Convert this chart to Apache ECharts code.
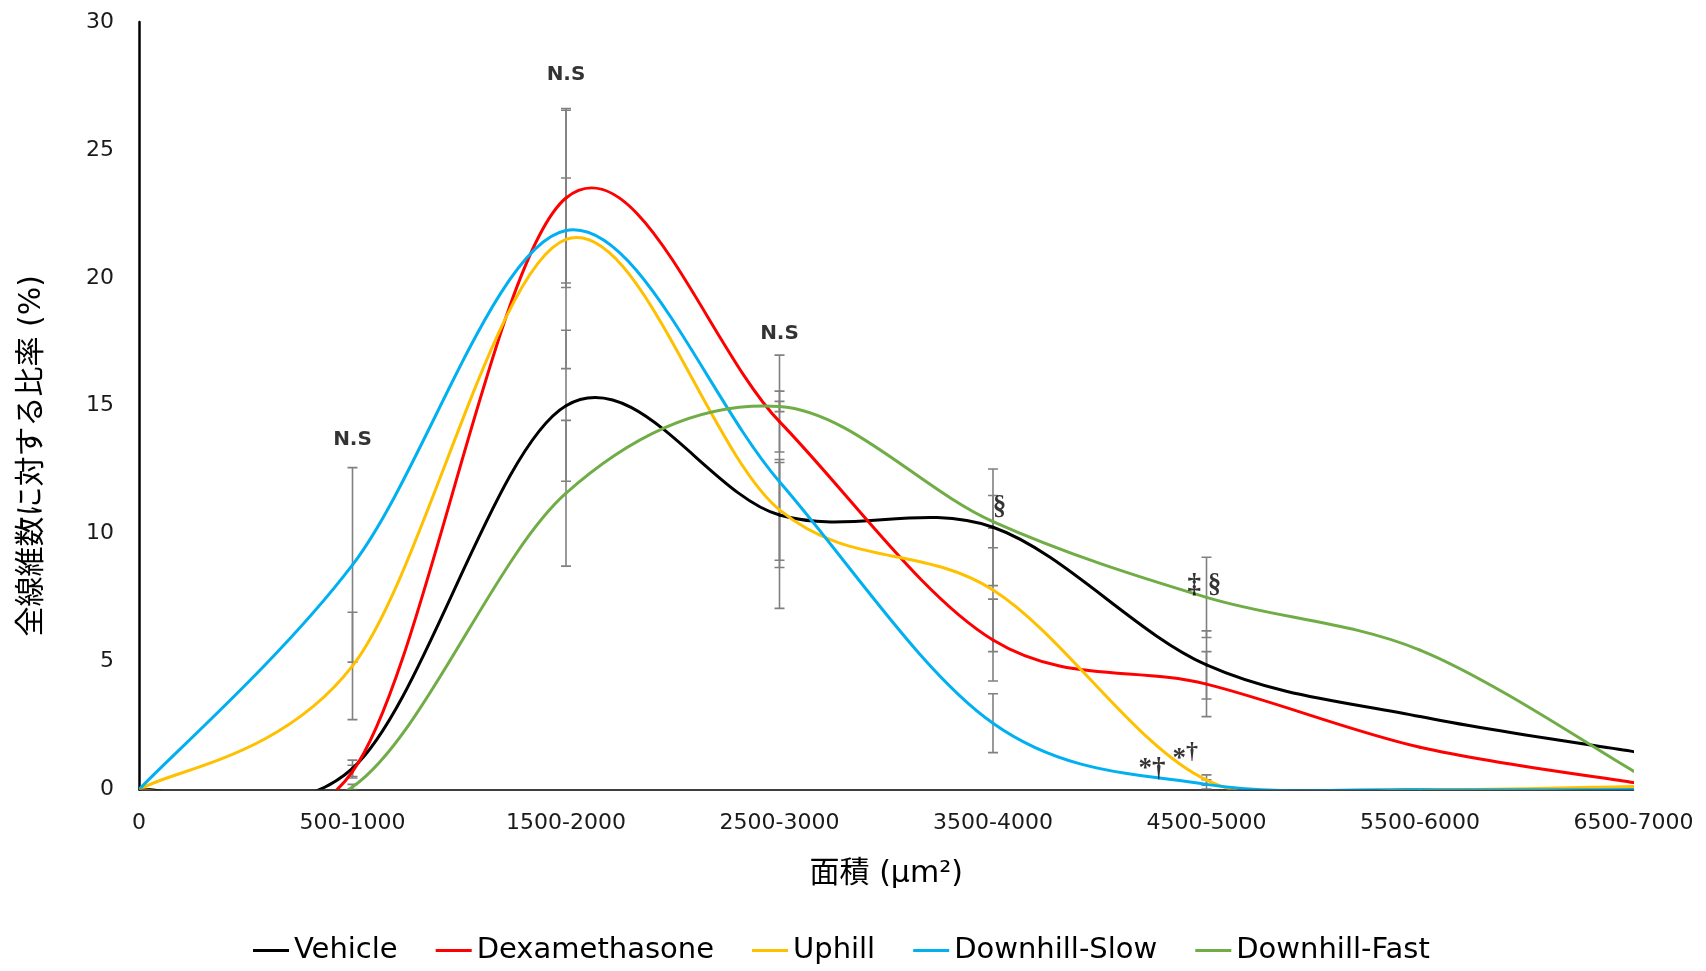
<!DOCTYPE html>
<html><head><meta charset="utf-8">
<script src="https://cdn.jsdelivr.net/npm/echarts@6/dist/echarts.min.js"></script>
<style>html,body{margin:0;padding:0;background:#fff}#c{width:1706px;height:971px}</style>
</head><body><div id="c"></div>
<script>
// x categories (area bins, µm²)
const categories = ['0', '500-1000', '1500-2000', '2500-3000', '3500-4000', '4500-5000', '5500-6000', '6500-7000'];
const yTicks = [0, 5, 10, 15, 20, 25, 30];

// series values (% of total fibres)
const seriesNames = ['Vehicle', 'Dexamethasone', 'Uphill', 'Downhill-Slow', 'Downhill-Fast'];
const vehicle       = [0, 0.83, 15.00, 10.73, 10.25, 4.87, 2.85, 1.48];
const dexamethasone = [0, 0.70, 23.12, 14.38,  5.84, 4.12, 1.65, 0.27];
const uphill        = [0, 4.83, 21.50, 10.93,  7.80, 0.37, 0.00, 0.12];
const downhillSlow  = [0, 8.78, 21.85, 12.03,  2.59, 0.20, 0.00, 0.00];
const downhillFast  = [0, 0.10, 11.58, 14.97, 10.47, 7.51, 5.45, 0.72];

// error bar half-widths (null = no bar)
const vehicleErr       = [null, 0.32, 2.95, 2.05, 2.28, 1.33, null, null];
const dexamethasoneErr = [null, 0.25, 3.50, 1.19, 1.60, 1.27, null, null];
const uphillErr        = [null, 2.10, 5.05, 1.97, 2.41, 0.20, null, null];
const downhillSlowErr  = [null, 3.80, 2.05, 4.95, 1.15, 0.18, null, null];
const downhillFastErr  = [null, 0.10, 2.85, 0.20, 1.02, 1.57, null, null];

// significance annotations: text, x (category index units), y (value)
const nsTexts = ['N.S', 'N.S', 'N.S'];
const nsX = [1, 2, 3];
const nsY = [13.68, 27.93, 17.8];
const symTexts = ['§', '‡ §', '*†', '*{sup|†}'];
const symX = [4.03, 4.99, 4.745, 4.9];
const symY = [11.06, 8.0, 0.8, 1.2];

const colors = ['#000000', '#FF0000', '#FFC000', '#00B0F0', '#70AD47'];
const allVals = [vehicle, dexamethasone, uphill, downhillSlow, downhillFast];
const allErrs = [vehicleErr, dexamethasoneErr, uphillErr, downhillSlowErr, downhillFastErr];

// Smoothed line (spreadsheet-style Catmull-Rom Bezier), one segment per data item,
// every point positioned through the chart's own axes via api.coord.
function smoothRenderer(vals, color) {
  return function (params, api) {
    const i = params.dataIndex;
    const n = vals.length;
    if (i >= n - 1) return null;
    const P = j => {
      const k = Math.max(0, Math.min(n - 1, j));
      return api.coord([k, vals[k]]);
    };
    const p0 = P(i - 1), p1 = P(i), p2 = P(i + 1), p3 = P(i + 2);
    return {
      type: 'bezierCurve',
      shape: {
        x1: p1[0], y1: p1[1], x2: p2[0], y2: p2[1],
        cpx1: p1[0] + (p2[0] - p0[0]) / 6, cpy1: p1[1] + (p2[1] - p0[1]) / 6,
        cpx2: p2[0] - (p3[0] - p1[0]) / 6, cpy2: p2[1] - (p3[1] - p1[1]) / 6
      },
      style: { stroke: color, lineWidth: 3, fill: null, lineCap: 'round' }
    };
  };
}

const lineSeries = seriesNames.map((name, k) => ({
  name: name,
  type: 'custom',
  data: allVals[k].map((v, i) => [i, v]),
  encode: { x: 0, y: 1 },
  clip: true,
  silent: true,
  z: 3,
  itemStyle: { color: colors[k] },
  renderItem: smoothRenderer(allVals[k], colors[k])
}));

const errData = [];
allVals.forEach((vals, k) => {
  vals.forEach((v, i) => {
    const e = allErrs[k][i];
    if (e != null) errData.push([i, v - e, v + e]);
  });
});

const errSeries = {
  type: 'custom',
  name: 'err',
  silent: true,
  clip: true,
  z: 2,
  data: errData,
  encode: { x: 0, y: [1, 2] },
  renderItem: function (params, api) {
    const x = api.value(0);
    const lo = api.coord([x, api.value(1)]);
    const hi = api.coord([x, api.value(2)]);
    const w = 5;
    const st = { stroke: '#808080', lineWidth: 1.6 };
    return {
      type: 'group',
      children: [
        { type: 'line', shape: { x1: lo[0], y1: lo[1], x2: hi[0], y2: hi[1] }, style: st },
        { type: 'line', shape: { x1: lo[0] - w, y1: lo[1], x2: lo[0] + w, y2: lo[1] }, style: st },
        { type: 'line', shape: { x1: hi[0] - w, y1: hi[1], x2: hi[0] + w, y2: hi[1] }, style: st }
      ]
    };
  }
};

const nsSeries = {
  type: 'scatter',
  name: 'ns',
  silent: true,
  symbolSize: 0,
  z: 5,
  data: nsTexts.map((t, i) => ({ name: t, value: [nsX[i], nsY[i]] })),
  label: {
    show: true, position: 'inside', formatter: p => p.name,
    fontFamily: 'DejaVu Sans', fontWeight: 'bold', fontSize: 20, color: '#000'
  }
};

const symSeries = {
  type: 'scatter',
  name: 'sym',
  silent: true,
  symbolSize: 0,
  z: 5,
  data: symTexts.map((t, i) => ({ name: t, value: [symX[i], symY[i]] })),
  label: {
    show: true, position: 'inside', formatter: p => p.name,
    fontFamily: 'Liberation Serif', fontSize: 27, fontWeight: 'bold', color: '#000',
    rich: { sup: { fontFamily: 'Liberation Serif', fontSize: 24, fontWeight: 'bold', color: '#000', padding: [0, 0, 14, 0] } }
  }
};

const chart = echarts.init(document.getElementById('c'), null, { renderer: 'canvas' });
chart.setOption({
  animation: false,
  backgroundColor: '#fff',
  grid: { left: 139, right: 72.5, top: 22, bottom: 181.5, containLabel: false },
  legend: {
    data: seriesNames,
    left: 248, top: 931,
    icon: 'rect', itemWidth: 36, itemHeight: 3, itemGap: 38,
    textStyle: { fontFamily: 'DejaVu Sans', fontSize: 29, color: '#000' }
  },
  xAxis: {
    type: 'value', min: 0, max: categories.length - 1, interval: 1,
    name: '面積 (μm²)', nameLocation: 'middle', nameGap: 70,
    nameTextStyle: { fontFamily: 'DejaVu Sans, Noto Sans CJK JP', fontSize: 30, color: '#000' },
    axisLine: { show: true, lineStyle: { color: '#000', width: 1.5 } },
    axisTick: { show: false },
    splitLine: { show: false },
    axisLabel: { formatter: v => categories[v], margin: 23, fontFamily: 'DejaVu Sans', fontSize: 22, color: '#1a1a1a' }
  },
  yAxis: {
    type: 'value', min: yTicks[0], max: yTicks[yTicks.length - 1], interval: 5,
    name: '全線維数に対する比率 (%)', nameLocation: 'middle', nameGap: 92, nameRotate: 90,
    nameTextStyle: { fontFamily: 'DejaVu Sans, Noto Sans CJK JP', fontSize: 30, color: '#000', padding: [0, 100, 0, 0] },
    axisLine: { show: true, lineStyle: { color: '#000', width: 2.5 } },
    axisTick: { show: false },
    splitLine: { show: false },
    axisLabel: { margin: 25, fontFamily: 'DejaVu Sans', fontSize: 22, color: '#1a1a1a' }
  },
  series: [errSeries].concat(lineSeries, [nsSeries, symSeries])
});
</script></body></html>
